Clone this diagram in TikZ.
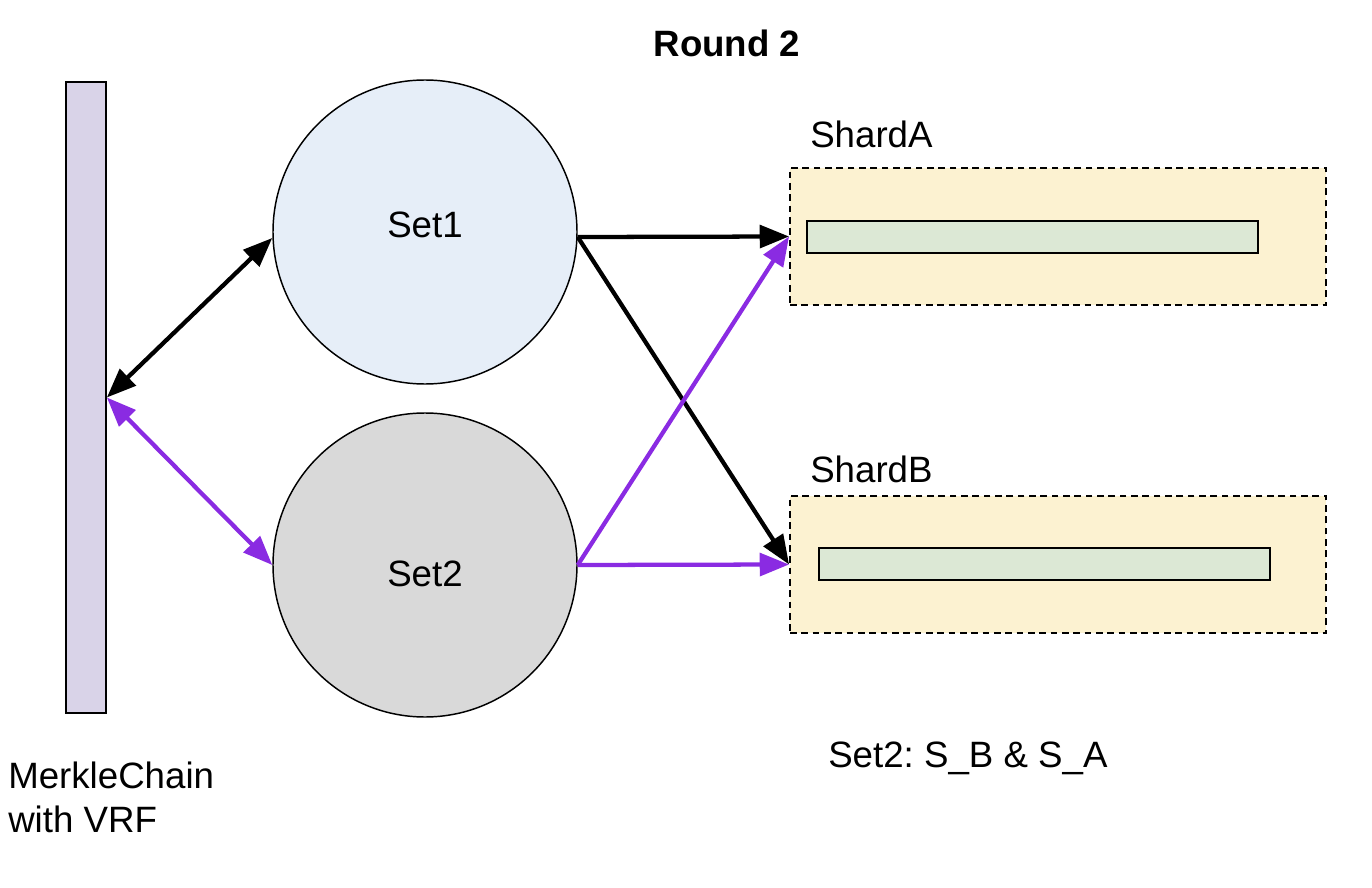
\documentclass[tikz,border=0pt]{standalone}
\usepackage{fontspec}
\setmainfont{Liberation Sans}
\usetikzlibrary{arrows.meta}
\definecolor{barfill}{HTML}{D9D3E8}
\definecolor{setonefill}{HTML}{E6EEF8}
\definecolor{settwofill}{HTML}{D9D9D9}
\definecolor{shardfill}{HTML}{FCF2D1}
\definecolor{innerfill}{HTML}{DCE8D5}
\definecolor{purp}{HTML}{8A2BE2}
\frenchspacing
\tikzset{
  txt/.style={font=\fontsize{27.5}{33}\selectfont, inner sep=0pt, anchor=base},
  setcircle/.style={circle, draw=black, line width=1.1pt, minimum size=228pt, inner sep=0pt},
  shardbox/.style={rectangle, draw=black, fill=shardfill, line width=1.4pt, dash pattern=on 5pt off 3.5pt, minimum width=402pt, minimum height=102.75pt, inner sep=0pt},
  innerbox/.style={rectangle, draw=black, fill=innerfill, line width=1.3pt, minimum width=338.25pt, minimum height=24pt, inner sep=0pt},
  conn/.style={line width=3.2pt, -{Triangle[length=22pt,width=17pt]}},
  dconn/.style={line width=3.2pt, {Triangle[length=22pt,width=17pt]}-{Triangle[length=22pt,width=17pt]}},
}
\begin{document}
\begin{tikzpicture}[x=0.75pt, y=-0.75pt]
\useasboundingbox (0,0) rectangle (1372,888);
% title
\node[txt, font=\fontsize{27.5}{33}\selectfont\bfseries] (title) at (727,57) {Round 2};
% merkle chain bar
\node[rectangle, draw=black, fill=barfill, line width=1.3pt, minimum width=30pt, minimum height=473.25pt, inner sep=0pt] (bar) at (86,397.5) {};
\node[txt, anchor=base west] (mc1) at (8,788) {MerkleChain};
\node[txt, anchor=base west] (mc2) at (8,832) {with VRF};
% sets
\node[setcircle, fill=setonefill] (set1) at (425,232) {};
\node[setcircle, fill=settwofill] (set2) at (425,565) {};
\node[txt] (set1lbl) at (425,238) {Set1};
\node[txt] (set2lbl) at (425,586) {Set2};
\coordinate (s1e) at ([yshift=-3.75pt]set1.east);
\coordinate (s1w) at ([yshift=-4.5pt]set1.west);
% shards
\node[shardbox] (shardA) at (1058,236.5) {};
\node[innerbox] (innerA) at (1032.5,237) {};
\node[txt, anchor=base west] (shardAlbl) at (810,148) {ShardA};
\node[shardbox] (shardB) at (1058,564.5) {};
\node[innerbox] (innerB) at (1044.5,564) {};
\node[txt, anchor=base west] (shardBlbl) at (810,482) {ShardB};
\node[txt, anchor=base west] (note) at (828,767) {Set2: S\_B \& S\_A};
% connectors
\draw[dconn, black] (bar.east) -- (s1w);
\draw[dconn, purp] (bar.east) -- (set2.west);
\draw[conn, black] (s1e) -- (shardA.west);
\draw[conn, black] (s1e) -- (shardB.west);
\draw[conn, purp] (set2.east) -- (shardA.west);
\draw[conn, purp] (set2.east) -- (shardB.west);
\end{tikzpicture}
\end{document}
